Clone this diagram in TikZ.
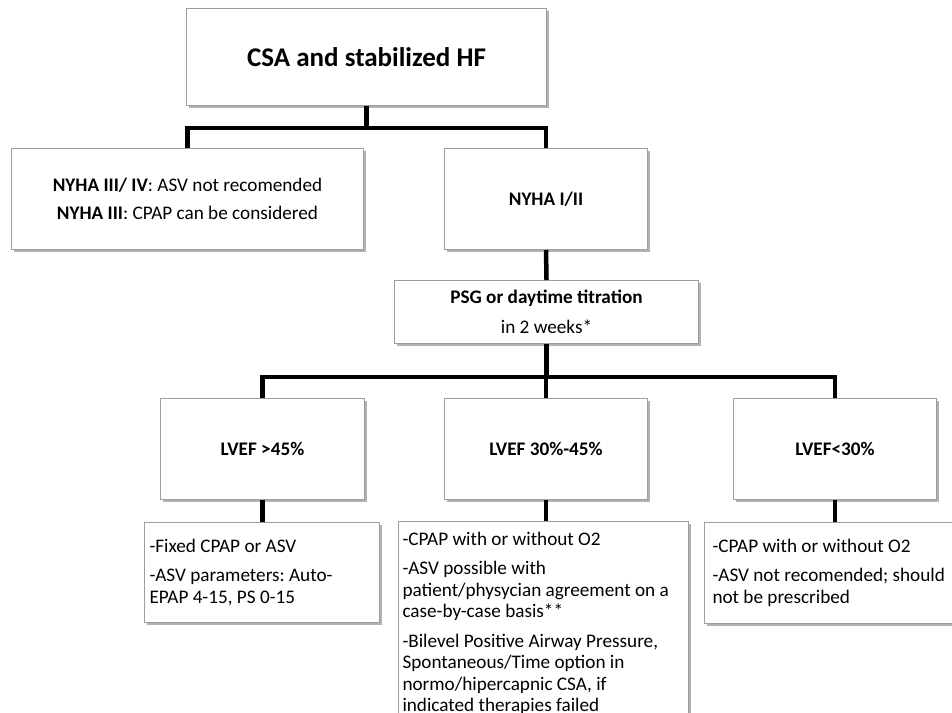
\documentclass[tikz,border=0pt]{standalone}
\usepackage{fontspec}
\setmainfont{Carlito}
\usetikzlibrary{shadows,calc}
\definecolor{boxline}{gray}{0.62}
\tikzstyle{box}=[draw=boxline,
                 fill=white,
                 line width=1pt,
                 anchor=north west,
                 drop shadow={shadow xshift=2pt,shadow yshift=-2pt,opacity=0.3,fill=black},
                 font=\fontsize{19.2}{21.5}\selectfont\frenchspacing]
\tikzstyle{head}=[box,align=center]
\tikzstyle{list}=[box,align=flush left]
\tikzstyle{link}=[line width=4.5pt,black]

\begin{document}
\begin{tikzpicture}[x=1pt,y=-1pt]
    \fill[white] (0,0) rectangle (952,712);
    \useasboundingbox (0,0) rectangle (952,712);
    % top of the tree
    \node[head,minimum width=360pt,minimum height=97pt,font=\fontsize{27}{32}\selectfont\bfseries] (csa) at (186,8) {CSA and stabilized HF};
    \node[head,minimum width=352pt,minimum height=101pt] (nyhaiv) at (11,148) {\textbf{NYHA III/ IV}: ASV not recomended\\[6.5pt]\textbf{NYHA III}: CPAP can be considered};
    \node[head,minimum width=203pt,minimum height=101pt] (nyhaii) at (444,148) {\textbf{NYHA I/II}};
    \node[head,minimum width=304pt,minimum height=63pt] (psg) at (394,280) {\textbf{PSG or daytime titration}\\[8.5pt]in 2 weeks*};
    % LVEF groups
    \node[head,minimum width=204pt,minimum height=101pt] (lvhigh) at (160,398) {\textbf{LVEF >45\%}};
    \node[head,minimum width=203pt,minimum height=101pt] (lvmid) at (444,398) {\textbf{LVEF 30\%-45\%}};
    \node[head,minimum width=203pt,minimum height=101pt] (lvlow) at (733,398) {\textbf{LVEF<30\%}};
    % therapies
    \node[list,text width=225pt,inner xsep=5pt,minimum height=100pt] (thhigh) at (144,522) {-Fixed CPAP or ASV\\[7.5pt]-ASV parameters: Auto-\\EPAP 4-15, PS 0-15};
    \node[list,text width=282pt,inner xsep=4pt,minimum height=204pt] (thmid) at (398,521) {-CPAP with or without O2\\[8pt]-ASV possible with\\patient/physycian agreement on a\\case-by-case basis**\\[8pt]-Bilevel Positive Airway Pressure,\\Spontaneous/Time option in\\normo/hipercapnic CSA, if\\indicated therapies failed};
    \node[list,text width=260pt,inner xsep=8pt,minimum height=101pt] (thlow) at (704,522) {-CPAP with or without O2\\[7.5pt]-ASV not recomended; should\\not be prescribed};

    \draw[link] (csa.south) -- ++(0,22) -| (nyhaiv.north);
    \draw[link] (csa.south) -- ++(0,22) -| (nyhaii.north);
    \draw[link] (nyhaii.south) -- (psg.north);
    \draw[link] (psg.south) -- ++(0,33) -| (lvhigh.north);
    \draw[link] (psg.south) -- ++(0,33) -| (lvmid.north);
    \draw[link] (psg.south) -- ++(0,33) -| (lvlow.north);
    \draw[link] (lvhigh.south) -- (lvhigh.south |- thhigh.north);
    \draw[link] (lvmid.south) -- (lvmid.south |- thmid.north);
    \draw[link] (lvlow.south) -- (lvlow.south |- thlow.north);
\end{tikzpicture}
\end{document}
